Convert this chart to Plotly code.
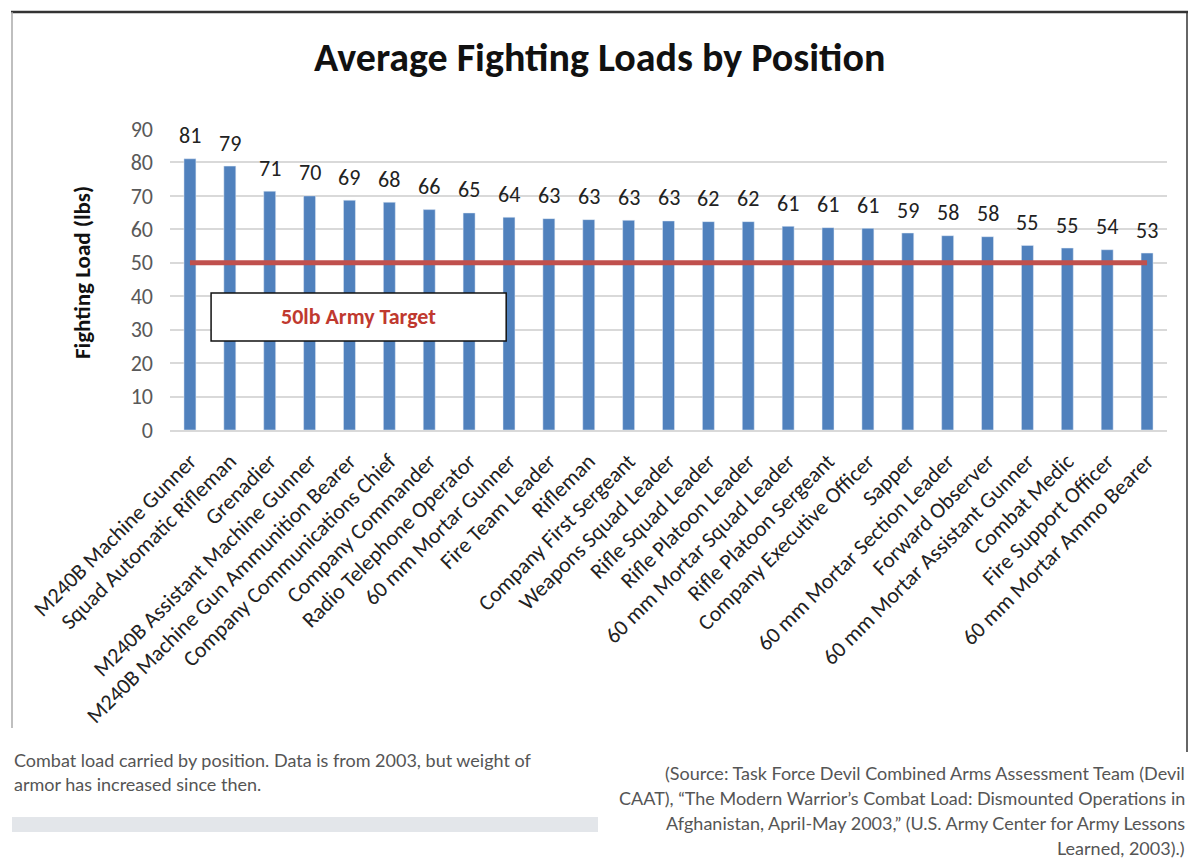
import plotly.graph_objects as go

positions = [
    "M240B Machine Gunner", "Squad Automatic Rifleman", "Grenadier",
    "M240B Assistant Machine Gunner", "M240B Machine Gun Ammunition Bearer",
    "Company Communications Chief", "Company Commander", "Radio Telephone Operator",
    "60 mm Mortar Gunner", "Fire Team Leader", "Rifleman", "Company First Sergeant",
    "Weapons Squad Leader", "Rifle Squad Leader", "Rifle Platoon Leader",
    "60 mm Mortar Squad Leader", "Rifle Platoon Sergeant", "Company Executive Officer",
    "Sapper", "60 mm Mortar Section Leader", "Forward Observer",
    "60 mm Mortar Assistant Gunner", "Combat Medic", "Fire Support Officer",
    "60 mm Mortar Ammo Bearer",
]
loads = [81.1, 78.9, 71.4, 70.0, 68.7, 68.1, 65.9, 64.9, 63.6, 63.2, 62.9, 62.7, 62.5,
         62.3, 62.3, 60.9, 60.5, 60.3, 58.9, 58.1, 57.8, 55.2, 54.4, 53.9, 52.9]
load_labels = ["81", "79", "71", "70", "69", "68", "66", "65", "64", "63", "63", "63", "63",
               "62", "62", "61", "61", "61", "59", "58", "58", "55", "55", "54", "53"]
target = 50
y_ticks = [0, 10, 20, 30, 40, 50, 60, 70, 80, 90]

title = "Average Fighting Loads by Position"
y_title = "Fighting Load (lbs)"
target_text = "50lb Army Target"
caption_lines = [
    "Combat load carried by position. Data is from 2003, but weight of",
    "armor has increased since then.",
]
source_lines = [
    "(Source: Task Force Devil Combined Arms Assessment Team (Devil",
    "CAAT), \u201cThe Modern Warrior\u2019s Combat Load: Dismounted Operations in",
    "Afghanistan, April-May 2003,\u201d (U.S. Army Center for Army Lessons",
    "Learned, 2003).)",
]

# page body has an 8px margin, so the figure is shrunk and shifted to fit the window
OFF = 8
FIG_W, FIG_H = 1200 - 2 * OFF, 863 - OFF

# plot area in page pixels
L, R, T, B = 170, 1167, 129, 430
W, H = R - L, B - T


def px_x(X):
    return (X - L) / W


def px_y(Y):
    return (B - Y) / H


chart_font = "Carlito, Lato, sans-serif"
page_font = "Lato, 'Open Sans', sans-serif"

fig = go.Figure()
fig.add_trace(go.Bar(x=positions, y=loads, marker_color="#5081BD", width=0.3,
                     hoverinfo="x+y"))

annotations = []
for p, v, lab in zip(positions, loads, load_labels):
    annotations.append(dict(x=p, y=v, text=lab, showarrow=False, yshift=23,
                            font=dict(family=chart_font, size=22, color="#222")))

# y axis title
annotations.append(dict(xref="paper", yref="paper", x=px_x(82), y=px_y(273),
                        xanchor="center", yanchor="middle", text="<b>%s</b>" % y_title,
                        textangle=-90, showarrow=False,
                        font=dict(family=chart_font, size=23, color="#111")))
# chart title
annotations.append(dict(xref="paper", yref="paper", x=px_x(599), y=px_y(57),
                        xanchor="center", yanchor="middle", text="<b>%s</b>" % title,
                        showarrow=False, font=dict(family=chart_font, size=40, color="#111")))
# target box text
annotations.append(dict(x=4.22, y=33.8, text="<b>%s</b>" % target_text, showarrow=False,
                        font=dict(family=chart_font, size=22, color="#C0392F")))

for i, line in enumerate(caption_lines):
    annotations.append(dict(xref="paper", yref="paper", x=px_x(12), y=px_y(760 + 24 * i),
                            xanchor="left", yanchor="middle", text=line, showarrow=False,
                            font=dict(family=page_font, size=18, color="#555")))
for i, line in enumerate(source_lines):
    annotations.append(dict(xref="paper", yref="paper", x=px_x(1187), y=px_y(773 + 25 * i),
                            xanchor="right", yanchor="middle", text=line, showarrow=False,
                            font=dict(family=page_font, size=18, color="#555")))

shapes = [
    # 50 lb target line
    dict(type="line", x0=0, x1=len(positions) - 1, y0=target, y1=target,
         line=dict(color="#C0504D", width=5), layer="above"),
    # target label box
    dict(type="rect", x0=0.53, x1=7.93, y0=26.6, y1=41.0,
         fillcolor="white", line=dict(color="#111", width=1.5), layer="above"),
    # frame around chart image
    dict(type="line", xref="paper", yref="paper", x0=px_x(11), x1=px_x(1188),
         y0=px_y(12), y1=px_y(12), line=dict(color="#333", width=2.5)),
    dict(type="line", xref="paper", yref="paper", x0=px_x(12), x1=px_x(12),
         y0=px_y(12), y1=px_y(728), line=dict(color="#aaa", width=1.5)),
    dict(type="line", xref="paper", yref="paper", x0=px_x(1187), x1=px_x(1187),
         y0=px_y(12), y1=px_y(752), line=dict(color="#333", width=1.5)),
    # grey bar under caption
    dict(type="rect", xref="paper", yref="paper", x0=px_x(12), x1=px_x(598),
         y0=px_y(817), y1=px_y(832), fillcolor="#E3E6EA", line=dict(width=0)),
]

fig.update_layout(
    width=FIG_W, height=FIG_H,
    margin=dict(l=L - OFF, r=FIG_W - (R - OFF), t=T - OFF, b=FIG_H - (B - OFF), autoexpand=False),
    plot_bgcolor="white", paper_bgcolor="white",
    showlegend=False,
    annotations=annotations,
    shapes=shapes,
)
fig.update_xaxes(range=[-0.5, len(positions) - 0.5], tickangle=-45,
                 tickfont=dict(family=chart_font, size=22, color="#222"),
                 showline=True, linecolor="#D9D9D9", linewidth=1.5,
                 ticklabelstandoff=8, showgrid=False)
fig.update_yaxes(range=[0, 90], tickvals=y_ticks, gridcolor="#D9D9D9", gridwidth=1.5,
                 zeroline=False, tickfont=dict(family=chart_font, size=22, color="#595959"),
                 ticklabelstandoff=16)

fig.write_html("out.html")
